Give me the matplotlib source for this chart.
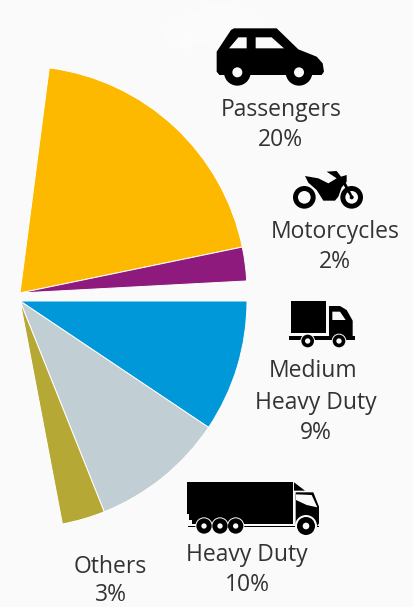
import matplotlib
matplotlib.use("Agg")
import matplotlib.pyplot as plt
from matplotlib.patches import Circle, Polygon

plt.rcParams['font.family'] = ['Open Sans', 'DejaVu Sans']

W, H = 413, 607
BG = '#fafafa'

# shares as labelled, and the shares the wedges are actually drawn with
labels = ['Passengers', 'Motorcycles', 'Medium\nHeavy Duty', 'Heavy Duty', 'Others']
percent = [20, 2, 9, 10, 3]
upper_shares = [19.7, 2.4]
lower_shares = [9.4, 9.55, 3.06]
upper_colors = ['#fdb900', '#8e1a7e']
lower_colors = ['#0098d8', '#c1ced3', '#b5a835']

fig = plt.figure(figsize=(W / 100, H / 100), dpi=100, facecolor=BG)
ax = fig.add_axes([0, 0, 1, 1])

edge = dict(edgecolor='white', linewidth=0.7)
ax.pie([s / 100 for s in upper_shares], colors=upper_colors, center=(20, H - 293), radius=227,
       startangle=82.6, counterclock=False, normalize=False, wedgeprops=edge, frame=True)
ax.pie([s / 100 for s in lower_shares], colors=lower_colors, center=(20, H - 301), radius=227,
       startangle=0, counterclock=False, normalize=False, wedgeprops=edge, frame=True)

ax.set_xlim(0, W)
ax.set_ylim(0, H)
ax.set_aspect('auto')
ax.axis('off')


def poly(pts, ox, oy, color='black', z=3):
    xy = [(ox + x / 3, H - (oy + y / 3)) for x, y in pts]
    ax.add_patch(Polygon(xy, closed=True, facecolor=color, edgecolor='none', zorder=z))


def circ(x, y, r, ox, oy, color='black', z=3):
    ax.add_patch(Circle((ox + x / 3, H - (oy + y / 3)), r / 3, facecolor=color, edgecolor='none', zorder=z))


def wheel(x, y, ox, oy, ring, outer, inner):
    circ(x, y, ring, ox, oy, BG, 4)
    circ(x, y, outer, ox, oy, 'black', 5)
    circ(x, y, inner, ox, oy, BG, 6)


# ghost car behind the real one
poly([(45, 85), (60, 65), (110, 45), (170, 15), (230, 10), (300, 25), (340, 55), (340, 125),
      (135, 130), (45, 125)], 150, 0, '#fbfbfb', 1)
circ(107, 120, 28, 150, 0, '#fcfcfc', 1)

# car
poly([(200, 155), (243, 90), (252, 85), (380, 85), (445, 148), (500, 170), (518, 190), (522, 215),
      (515, 225), (208, 225), (200, 215)], 150, 0)
poly([(237, 145), (265, 112), (290, 112), (290, 145)], 150, 0, BG, 4)
poly([(317, 112), (365, 112), (402, 145), (317, 145)], 150, 0, BG, 4)
for cx in [262, 447]:
    circ(cx, 217, 40, 150, 0)
    circ(cx, 217, 15, 150, 0, BG, 4)

# motorcycle
poly([(60, 48), (100, 55), (130, 70), (155, 55), (125, 35), (155, 33), (168, 50), (185, 45),
      (185, 65), (170, 82), (160, 110), (150, 122), (115, 122), (95, 90), (70, 68)], 285, 160)
for cx in [58, 200]:
    circ(cx, 112, 34, 285, 160)
    circ(cx, 112, 19, 285, 160, BG, 4)
poly([(170, 65), (178, 60), (205, 112), (197, 112)], 285, 160, 'black', 5)
circ(200, 112, 6, 285, 160, 'black', 5)

# medium truck
poly([(363, 32), (467, 32), (467, 128), (363, 128)], 170, 290)
poly([(477, 48), (510, 48), (530, 60), (548, 92), (548, 138), (477, 138)], 170, 290)
poly([(487, 65), (510, 65), (527, 90), (487, 90)], 170, 290, BG, 4)
poly([(357, 138), (556, 138), (556, 150), (357, 150)], 170, 290)
for cx in [413, 507]:
    wheel(cx, 153, 170, 290, 22, 19, 8)

# heavy truck
poly([(20, 20), (340, 20), (340, 148), (35, 148), (35, 135), (28, 135), (28, 118), (20, 118)], 180, 475)
poly([(342, 22), (375, 47), (342, 47)], 180, 475)
poly([(347, 52), (400, 52), (417, 95), (417, 145), (410, 155), (347, 155)], 180, 475)
poly([(348, 58), (395, 60), (412, 97), (380, 90), (348, 75)], 180, 475, BG, 4)
poly([(25, 152), (418, 152), (418, 157), (25, 157)], 180, 475)
for cx in [72, 120, 167]:
    wheel(cx, 153, 180, 475, 26, 23, 8)
wheel(378, 153, 180, 475, 33, 27, 10)

# labels
TXT = '#333333'
FS = 16.5
ax.text(281, H - 110, labels[0], color=TXT, fontsize=FS, ha='center', va='center')
ax.text(280, H - 140, '%d%%' % percent[0], color=TXT, fontsize=FS, ha='center', va='center')
ax.text(335, H - 232, labels[1], color=TXT, fontsize=FS, ha='center', va='center')
ax.text(335, H - 262, '%d%%' % percent[1], color=TXT, fontsize=FS, ha='center', va='center')
ax.text(313, H - 371, labels[2].split('\n')[0], color=TXT, fontsize=FS, ha='center', va='center')
ax.text(316, H - 403, labels[2].split('\n')[1], color=TXT, fontsize=FS, ha='center', va='center')
ax.text(316, H - 433, '%d%%' % percent[2], color=TXT, fontsize=FS, ha='center', va='center')
ax.text(247, H - 555, labels[3], color=TXT, fontsize=FS, ha='center', va='center')
ax.text(247, H - 585, '%d%%' % percent[3], color=TXT, fontsize=FS, ha='center', va='center')
ax.text(110, H - 567, labels[4], color=TXT, fontsize=FS, ha='center', va='center')
ax.text(111, H - 595, '%d%%' % percent[4], color=TXT, fontsize=FS, ha='center', va='center')

fig.savefig('out.png', dpi=100, facecolor=BG)
